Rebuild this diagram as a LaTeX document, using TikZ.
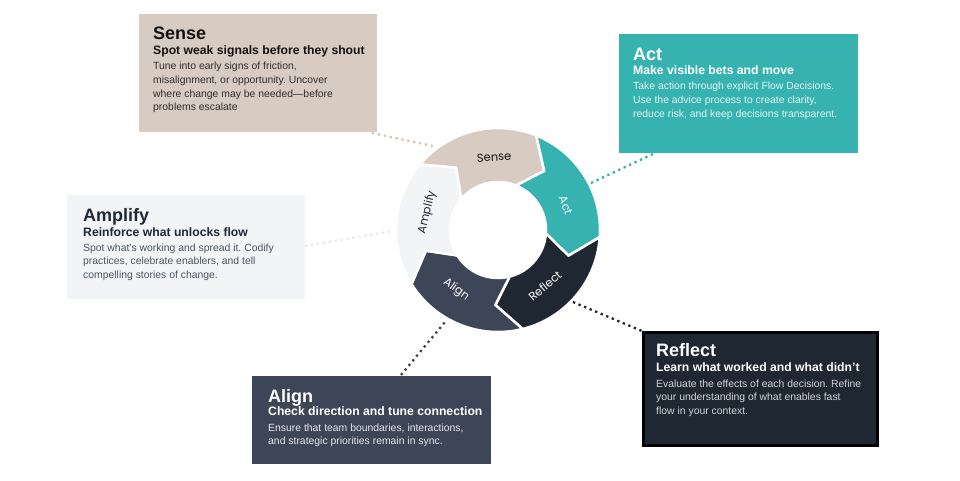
\documentclass[tikz,border=0pt]{standalone}
\usepackage{fontspec}
\setmainfont{Liberation Sans}
\newfontfamily\ringfont{Poppins}
\usetikzlibrary{calc}
\frenchspacing
\definecolor{senseC}{HTML}{D8CBC1}
\definecolor{actC}{HTML}{36B3B0}
\definecolor{ampC}{HTML}{F3F4F6}
\definecolor{reflC}{HTML}{1F2732}
\definecolor{alignC}{HTML}{3D4657}
\definecolor{ampDot}{HTML}{E6E8EC}
\definecolor{senseDot}{HTML}{D3C5BA}
\definecolor{darkTxt}{HTML}{111111}
\definecolor{bodyDark}{HTML}{2E2E2E}
\definecolor{ampTitle}{HTML}{1F2937}
\definecolor{ampBody}{HTML}{4B5563}
\definecolor{actBody}{HTML}{E4F5F4}
\definecolor{reflBody}{HTML}{D1D5DB}
\definecolor{alignBody}{HTML}{E5E7EB}
\newcommand\ringseg[3]{%
  \filldraw[fill=#3, draw=white, line width=2.5, line join=miter]
    (#1:102) arc[start angle=#1, end angle=#2, radius=102]
    -- (#2-16:75) -- (#2:48)
    arc[start angle=#2, end angle=#1, radius=48]
    -- (#1-16:75) -- cycle;}
\newcommand\bodytext[1]{\parbox[t]{220pt}{\raggedright\frenchspacing\fontsize{10.4}{13.6}\selectfont #1}}
\begin{document}
\begin{tikzpicture}[x=1pt,y=1pt,
  panel/.style={inner sep=0, outer sep=0, anchor=north west},
  ttl/.style={anchor=base west, inner sep=0, font=\fontsize{18}{20}\selectfont\bfseries},
  subttl/.style={anchor=base west, inner sep=0, font=\fontsize{12.2}{14}\selectfont\bfseries},
  bodytxt/.style={anchor=base west, inner sep=0},
  ringlbl/.style={font=\ringfont\fontsize{11.5}{13}\selectfont, inner sep=0},
  dots/.style={line width=2.3, dash pattern=on 2.3 off 3.7}]
\useasboundingbox (0,0) rectangle (960,480);
\fill[white] (0,0) rectangle (960,480);

% connector end points
\coordinate (sA) at (372,347); \coordinate (sB) at (433,334);
\coordinate (aA) at (591,297); \coordinate (aB) at (655,327);
\coordinate (mA) at (305,234); \coordinate (mB) at (393,249);
\coordinate (rA) at (573,178); \coordinate (rB) at (642,149);
\coordinate (gA) at (401,105); \coordinate (gB) at (445,158);
\draw[dots, senseDot] (sA) -- (sB);
\draw[dots, actC] (aA) -- (aB);
\draw[dots, ampDot] (mA) -- (mB);
\draw[dots, reflC] (rA) -- (rB);
\draw[dots, alignC] (gA) -- (gB);

% panels
\node[panel, fill=senseC, minimum width=238, minimum height=118] (senseBox) at (139,466) {};
\node[panel, fill=actC, minimum width=239, minimum height=119] (actBox) at (619,446) {};
\node[panel, fill=ampC, minimum width=238, minimum height=104] (ampBox) at (67,285) {};
\node[panel, fill=reflC, draw=black, line width=3, minimum width=234, minimum height=113] (reflBox) at (643.5,147.5) {};
\node[panel, fill=alignC, minimum width=239, minimum height=88] (alignBox) at (252,104) {};

% Sense text
\node[ttl, text=darkTxt] (senseT) at (153,440.7) {Sense};
\node[subttl, text=darkTxt] (senseS) at (153,425) {Spot weak signals before they shout};
\node[bodytxt, text=bodyDark] (senseB) at (153,410) {\bodytext{Tune into early signs of friction,\\misalignment, or opportunity. Uncover\\where change may be needed—before\\problems escalate}};

% Act text
\node[ttl, text=white] (actT) at (633,419.3) {Act};
\node[subttl, text=white] (actS) at (633,405) {Make visible bets and move};
\node[bodytxt, text=actBody] (actB) at (633,390) {\bodytext{Take action through explicit Flow Decisions.\\Use the advice process to create clarity,\\reduce risk, and keep decisions transparent.}};

% Amplify text
\node[ttl, text=ampTitle] (ampT) at (83,259) {Amplify};
\node[subttl, text=ampTitle] (ampS) at (83,244) {Reinforce what unlocks flow};
\node[bodytxt, text=ampBody] (ampB) at (83,229) {\bodytext{Spot what’s working and spread it. Codify\\practices, celebrate enablers, and tell\\compelling stories of change.}};

% Reflect text
\node[ttl, text=white] (reflT) at (656,124) {Reflect};
\node[subttl, text=white] (reflS) at (656,109) {Learn what worked and what didn’t};
\node[bodytxt, text=reflBody] (reflB) at (656,93) {\bodytext{Evaluate the effects of each decision. Refine\\your understanding of what enables fast\\flow in your context.}};

% Align text
\node[ttl, text=white] (alignT) at (268,78) {Align};
\node[subttl, text=white] (alignS) at (268,65) {Check direction and tune connection};
\node[bodytxt, text=alignBody] (alignB) at (268,49) {\bodytext{Ensure that team boundaries, interactions,\\and strategic priorities remain in sync.}};

% ring
\begin{scope}[shift={(498,250)}]
  \ringseg{140}{68}{senseC}
  \ringseg{68}{-4}{actC}
  \ringseg{-4}{-76}{reflC}
  \ringseg{-76}{-148}{alignC}
  \ringseg{212}{140}{ampC}
  \node[ringlbl, text=darkTxt, rotate=3] (senseL) at (93:73) {Sense};
  \node[ringlbl, text=white, rotate=-70] (actL) at (20:72) {Act};
  \node[ringlbl, text=white, rotate=40] (reflL) at (-50:73) {Reflect};
  \node[ringlbl, text=white, rotate=-35] (alignL) at (-125:73) {Align};
  \node[ringlbl, text=ampTitle, rotate=76] (ampL) at (166:73) {Amplify};
\end{scope}
\end{tikzpicture}
\end{document}
